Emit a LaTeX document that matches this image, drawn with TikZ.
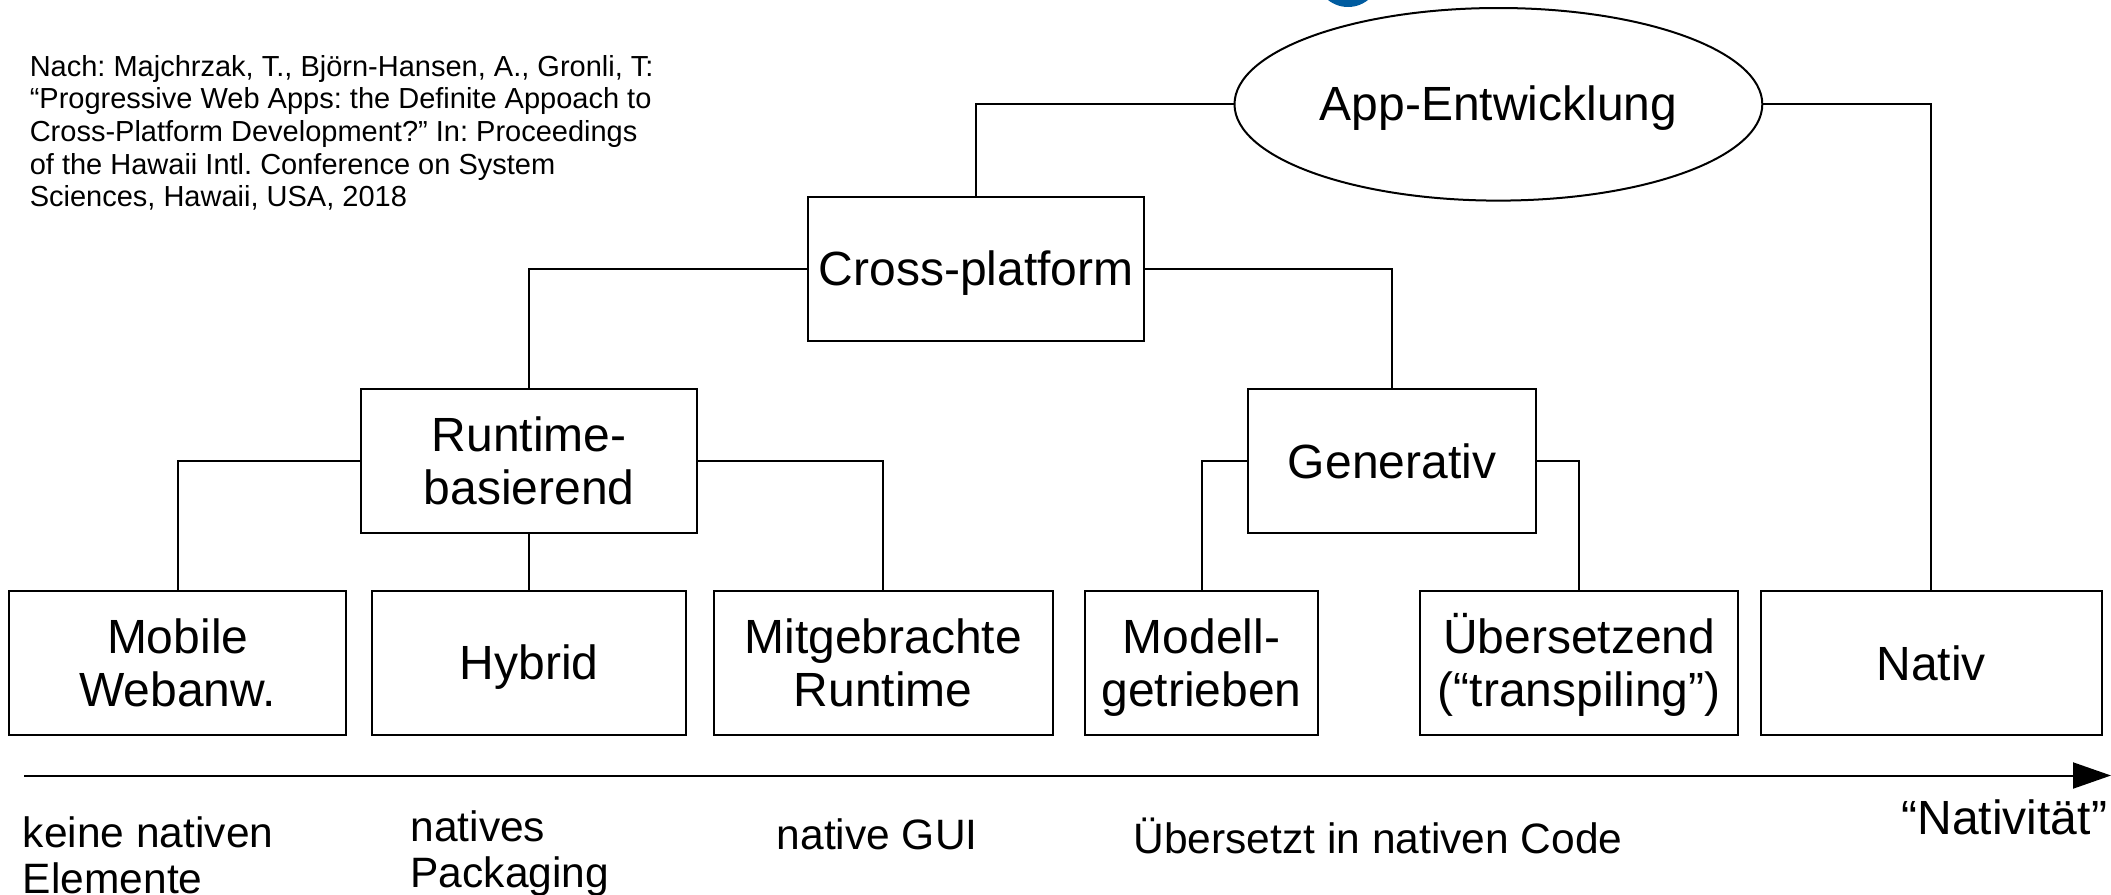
\documentclass[tikz,border=0pt]{standalone}
\usepackage{fontspec}
\setmainfont{Liberation Sans}
\usetikzlibrary{shapes.geometric,arrows.meta}
\definecolor{blobblue}{RGB}{0,92,160}
\newcommand\lstrut{\rule[-9pt]{0pt}{52pt}}
\frenchspacing
\begin{document}
\frenchspacing
\begin{tikzpicture}[x=1pt,y=-1pt,
  box/.style={draw,line width=2pt,rectangle,inner sep=0pt,outer sep=0pt,minimum height=144pt,align=center,
    font=\fontsize{48}{53}\selectfont},
  conn/.style={line width=2pt},
  lbl/.style={inner sep=0pt,outer sep=0pt,align=left,font=\fontsize{42.5}{46}\selectfont}]
\useasboundingbox (0,0) rectangle (2111,894);
\begin{scope}
\clip (0,0) rectangle (2111,894);
\fill[blobblue] (1348,-25) circle (32);
\end{scope}
% citation
\node[inner sep=0pt,anchor=base west,align=left,font=\fontsize{29}{32.7}\selectfont] (cite) at (29.6,206.8)
 {Nach: Majchrzak, T., Björn-Hansen, A., Gronli, T:\\“Progressive Web Apps: the Definite Appoach to\\Cross-Platform Development?” In: Proceedings\\of the Hawaii Intl. Conference on System\\Sciences, Hawaii, USA, 2018};
% nodes
\node[draw,line width=2pt,ellipse,inner sep=0pt,outer sep=0pt,minimum width=527.8pt,minimum height=192.6pt,
  font=\fontsize{48}{53}\selectfont] (app) at (1498.4,104.3) {\lstrut App-Entwicklung};
\node[box,minimum width=336.6pt] (cp) at (976.1,268.6) {\lstrut Cross-platform};
\node[box,minimum width=336.6pt] (rt) at (529.1,461.1) {\lstrut Runtime-\\\lstrut basierend};
\node[box,minimum width=288pt] (gen) at (1392,461.1) {\lstrut Generativ};
\node[box,minimum width=336.6pt] (mob) at (177.7,663) {\lstrut Mobile\\\lstrut Webanw.};
\node[box,minimum width=313.7pt] (hyb) at (529.1,663) {\lstrut Hybrid};
\node[box,minimum width=339.3pt] (mit) at (883.2,663) {\lstrut Mitgebrachte\\\lstrut Runtime};
\node[box,minimum width=233pt] (mod) at (1201.5,663) {\lstrut Modell-\\\lstrut getrieben};
\node[box,minimum width=317.8pt] (ueb) at (1579.2,663) {\lstrut Übersetzend\\\lstrut (“transpiling”)};
\node[box,minimum width=340.6pt] (nat) at (1931.3,663) {\lstrut Nativ};
% connectors
\draw[conn] (app.west) -| (cp.north);
\draw[conn] (app.east) -| (nat.north);
\draw[conn] (cp.west) -| (rt.north);
\draw[conn] (cp.east) -| (gen.north);
\draw[conn] (rt.west) -| (mob.north);
\draw[conn] (rt.south) -- (hyb.north);
\draw[conn] (rt.east) -| (mit.north);
\draw[conn] (gen.west) -| (mod.north);
\draw[conn] (gen.east) -| (ueb.north);
% axis
\coordinate (a0) at (24,775.5);
\coordinate (a1) at (2111,775.5);
\draw[line width=2pt,-{Triangle[length=38pt,width=26pt]}] (a0) -- (a1);
% axis labels
\node[lbl,anchor=base west] (l1) at (23,893) {keine nativen\\Elemente};
\node[lbl,anchor=base west] (l2) at (410.6,887) {natives\\Packaging};
\node[lbl,anchor=base west] (l3) at (776.8,849.5) {native GUI};
\node[lbl,anchor=base west] (l4) at (1133.6,853) {Übersetzt in nativen Code};
\node[lbl,anchor=base east,font=\fontsize{48}{52}\selectfont] (l5) at (2107,834) {“Nativität”};
\end{tikzpicture}
\end{document}
